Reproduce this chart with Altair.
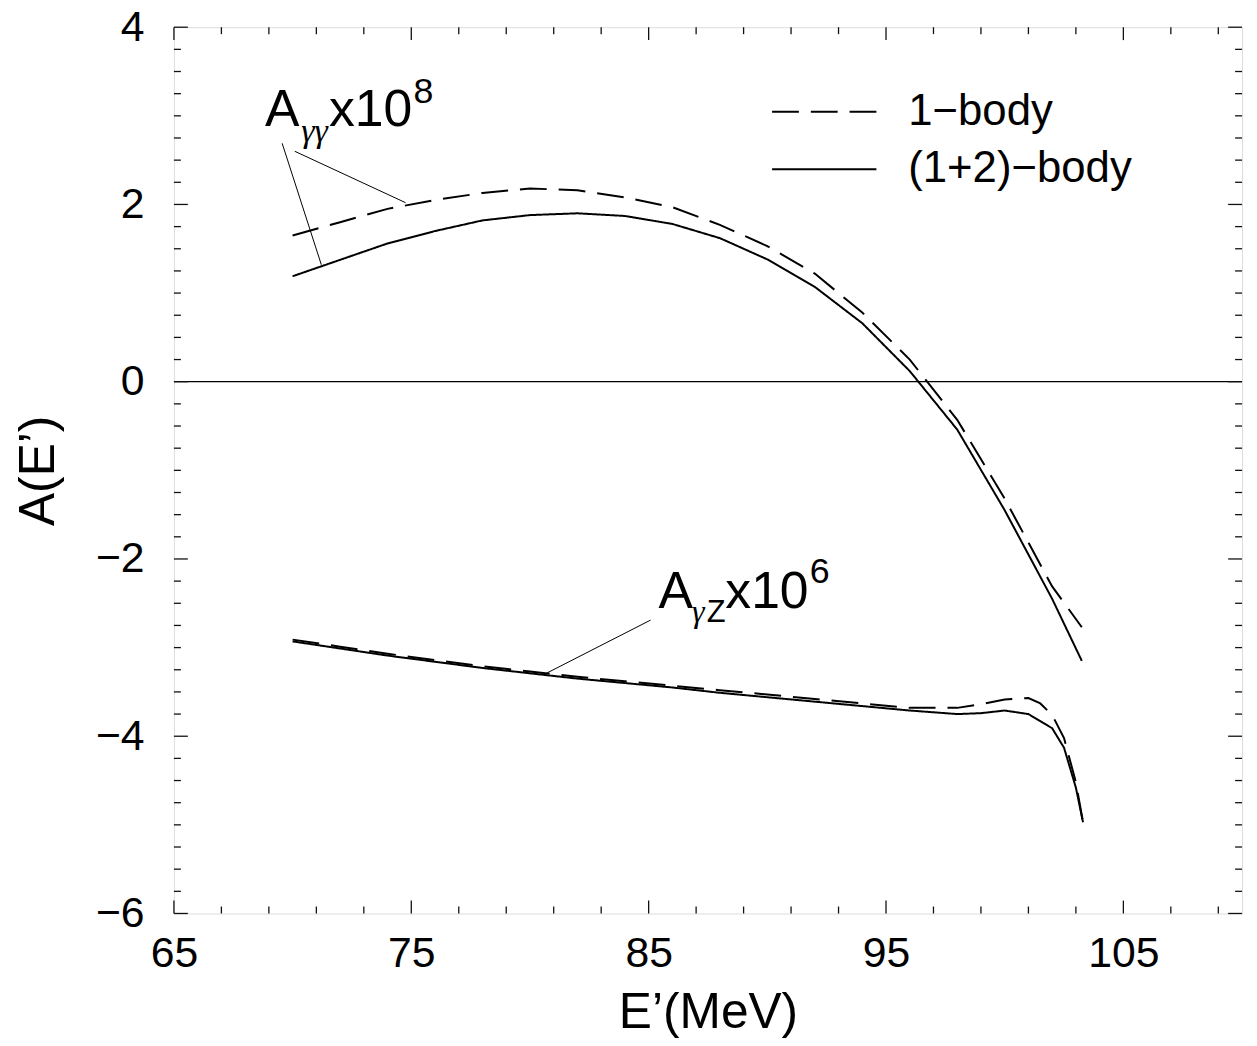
import altair as alt
import pandas as pd

# ---------------- data ----------------
models = ["1−body", "(1+2)−body"]

E_gg = [70, 72, 74, 76, 78, 80, 82, 84, 86, 88, 90, 92, 94, 96, 98, 100, 102, 103.25]
gg_one = [1.65, 1.80, 1.95, 2.05, 2.13, 2.18, 2.16, 2.08, 1.97, 1.77, 1.53, 1.22, 0.78, 0.25, -0.43, -1.32, -2.31, -2.77]
gg_onetwo = [1.19, 1.375, 1.56, 1.70, 1.82, 1.88, 1.90, 1.87, 1.78, 1.62, 1.38, 1.07, 0.66, 0.12, -0.54, -1.45, -2.45, -3.15]

E_gz = [70, 72, 74, 76, 78, 80, 82, 84, 86, 88, 90, 92, 94, 96, 98, 99, 100, 101, 101.5, 102, 102.5, 103, 103.3]
gz_one = [-2.91, -2.99, -3.07, -3.14, -3.21, -3.27, -3.33, -3.38, -3.43, -3.48, -3.53, -3.58, -3.63, -3.68, -3.68,
          -3.64, -3.585, -3.57, -3.63, -3.76, -4.02, -4.52, -4.97]
gz_onetwo = [-2.93, -3.01, -3.09, -3.16, -3.23, -3.29, -3.35, -3.40, -3.45, -3.51, -3.56, -3.61, -3.66, -3.71, -3.75,
             -3.74, -3.71, -3.75, -3.83, -3.91, -4.13, -4.58, -4.97]

x_major = [65, 75, 85, 95, 105]
x_minor = [e for e in range(65, 110, 2) if e not in x_major]
y_major = [-6, -4, -2, 0, 2, 4]
y_minor = [v / 4 for v in range(-24, 17) if (v / 4) not in y_major]

# ---------------- build tables ----------------
rows = []
for e, a in zip(E_gg, gg_one):
    rows.append({"E": e, "A": a, "model": models[0], "curve": "gg"})
for e, a in zip(E_gg, gg_onetwo):
    rows.append({"E": e, "A": a, "model": models[1], "curve": "gg"})
for e, a in zip(E_gz, gz_one):
    rows.append({"E": e, "A": a, "model": models[0], "curve": "gz"})
for e, a in zip(E_gz, gz_onetwo):
    rows.append({"E": e, "A": a, "model": models[1], "curve": "gz"})
df = pd.DataFrame(rows)

W, H = 1075, 892
FONT = "Liberation Sans"
INK = "#111111"

xs = alt.Scale(domain=[65, 110], nice=False, zero=False)
ys = alt.Scale(domain=[-6, 4], nice=False, zero=False)

x_axis = alt.Axis(values=x_major, format="d", ticks=False, tickSize=0, domain=False, grid=False,
                  labelFontSize=43, labelFont=FONT, labelColor="black", labelPadding=19, labelFlush=False,
                  title="E’(MeV)", titleFont=FONT, titleFontSize=50, titleFontWeight="normal",
                  titleColor="black", titleBaseline="alphabetic", titleY=115)
y_axis = alt.Axis(values=y_major, format="d", ticks=False, tickSize=0, domain=False, grid=False,
                  labelFontSize=43, labelFont=FONT, labelColor="black", labelPadding=30, labelFlush=False,
                  title="A(E’)", titleFont=FONT, titleFontSize=50, titleFontWeight="normal",
                  titleColor="black", titleBaseline="alphabetic", titleX=-121, titleY=446,
                  titleAlign="center", titleAngle=270)


def X(field=None, datum=None):
    if datum is not None:
        return alt.X(datum=datum, scale=xs, axis=x_axis, title="E’(MeV)")
    return alt.X(field, type="quantitative", scale=xs, axis=x_axis, title="E’(MeV)")


def Y(field=None, datum=None):
    if datum is not None:
        return alt.Y(datum=datum, scale=ys, axis=y_axis, title="A(E’)")
    return alt.Y(field, type="quantitative", scale=ys, axis=y_axis, title="A(E’)")


def X2(datum):
    return alt.X2(datum=datum)


def Y2(datum):
    return alt.Y2(datum=datum)


lines = alt.Chart(df).mark_line(color="black", strokeWidth=2).encode(
    x=X("E"),
    y=Y("A"),
    strokeDash=alt.StrokeDash(
        "model:N",
        scale=alt.Scale(domain=models, range=[[27, 12], [1, 0]]),
        legend=alt.Legend(title=None, orient="none", legendX=601, legendY=63, padding=0,
                          symbolType="stroke", symbolSize=11025, symbolStrokeWidth=2,
                          symbolStrokeColor="black", labelFont=FONT, labelFontSize=44,
                          labelColor="black", labelOffset=31, rowPadding=14, clipHeight=44,
                          labelLimit=0),
    ),
    detail="curve:N",
    order="E:Q",
)

zero = alt.Chart(pd.DataFrame({"A": [0]})).mark_rule(color="black", strokeWidth=1.2).encode(
    y=Y("A")
)

# ---------------- frame ticks (inward) ----------------
def xticks(vals, length):
    d = pd.DataFrame({"E": vals})
    bot = alt.Chart(d).mark_rule(color=INK, strokeWidth=1.3).encode(
        x=X("E"), y=alt.value(H), y2=alt.value(H - length))
    top = alt.Chart(d).mark_rule(color=INK, strokeWidth=1.3).encode(
        x=X("E"), y=alt.value(0), y2=alt.value(length))
    return [bot, top]


def yticks(vals, length):
    d = pd.DataFrame({"A": vals})
    lef = alt.Chart(d).mark_rule(color=INK, strokeWidth=1.3).encode(
        y=Y("A"), x=alt.value(0), x2=alt.value(length))
    rig = alt.Chart(d).mark_rule(color=INK, strokeWidth=1.3).encode(
        y=Y("A"), x=alt.value(W), x2=alt.value(W - length))
    return [lef, rig]


tick_layers = xticks(x_major, 13) + xticks(x_minor, 7) + yticks(y_major, 14) + yticks(y_minor, 7)

# ---------------- annotations ----------------
one = pd.DataFrame({"k": [0]})


def label(txt, e, a, size, font=FONT, style="normal"):
    return alt.Chart(one).mark_text(align="left", baseline="alphabetic", fontSize=size, font=font,
                                    fontStyle=style, color="black").encode(
        x=X(datum=e), y=Y(datum=a), text=alt.value(txt))


def leader(e1, a1, e2, a2):
    return alt.Chart(one).mark_rule(color="black", strokeWidth=1).encode(
        x=X(datum=e1), y=Y(datum=a1), x2=X2(e2), y2=Y2(a2))


ann = [
    label("A", 68.84, 2.884, 52),
    label("γγ", 70.36, 2.70, 34, font="Liberation Serif", style="italic"),
    label("x10", 71.53, 2.884, 52),
    label("8", 75.09, 3.14, 36),
    label("A", 85.41, -2.548, 52),
    label("γ", 86.83, -2.716, 32, font="Liberation Serif", style="italic"),
    label("Z", 87.45, -2.716, 31),
    label("x10", 88.23, -2.548, 52),
    label("6", 91.79, -2.27, 36),
    leader(69.56, 2.69, 71.21, 1.32),
    leader(70.09, 2.60, 74.76, 2.02),
    leader(85.08, -2.69, 80.62, -3.30),
]

chart = alt.layer(lines, zero, *tick_layers, *ann).properties(
    width=W, height=H,
    autosize=alt.AutoSizeParams(type="none"),
    padding={"left": 167, "top": 16, "right": 7, "bottom": 122},
).configure_view(stroke=INK, strokeWidth=1.6).configure(background="white")

chart.save("out.html", embed_options={"renderer": "svg", "actions": False})
